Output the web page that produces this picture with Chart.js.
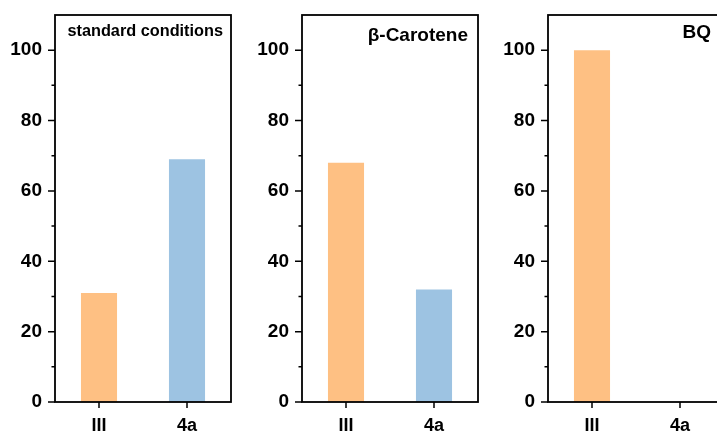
<!DOCTYPE html>
<html>
<head>
<meta charset="utf-8">
<script src="https://cdn.jsdelivr.net/npm/chart.js@4/dist/chart.umd.min.js"></script>
<style>
    html, body { margin: 0; padding: 0; background: #fff; overflow: hidden; }
    #wrap { position: relative; width: 717px; height: 433px; overflow: hidden; }
    .panel { position: absolute; top: 0; width: 240px; height: 433px; }
</style>
</head>
<body>
<div id="wrap">
    <div class="panel" style="left:0px"><canvas id="c1"></canvas></div>
    <div class="panel" style="left:247px"><canvas id="c2"></canvas></div>
    <div class="panel" style="left:493px"><canvas id="c3"></canvas></div>
</div>
<script>
// data
const categories = ["III", "4a"];
const standardValues = [31, 69];
const caroteneValues = [68, 32];
const bqValues = [100, 0];
const yTicks = [0, 20, 40, 60, 80, 100];
const yMinorTicks = [10, 30, 50, 70, 90];
const panelTitles = ["standard conditions", "β-Carotene", "BQ"];

const barColors = ["#FEC083", "#9DC3E2"];
const fontFamily = "'Liberation Sans', Arial, sans-serif";

// frame, tick marks and panel label
const framePlugin = {
    id: "frame",
    afterDraw(chart, args, opts) {
        const ctx = chart.ctx;
        const area = chart.chartArea;
        const yScale = chart.scales.y;
        const xScale = chart.scales.x;
        ctx.save();
        ctx.strokeStyle = "#000";
        ctx.lineWidth = 1.8;
        ctx.strokeRect(area.left, area.top, area.right - area.left, area.bottom - area.top);

        ctx.lineWidth = 1.5;
        ctx.beginPath();
        yTicks.forEach(v => {
            const py = yScale.getPixelForValue(v);
            ctx.moveTo(area.left - 7, py);
            ctx.lineTo(area.left, py);
        });
        yMinorTicks.forEach(v => {
            const py = yScale.getPixelForValue(v);
            ctx.moveTo(area.left - 3.5, py);
            ctx.lineTo(area.left, py);
        });
        categories.forEach((c, i) => {
            const px = xScale.getPixelForValue(i);
            ctx.moveTo(px, area.bottom);
            ctx.lineTo(px, area.bottom + 6);
        });
        ctx.stroke();

        ctx.fillStyle = "#000";
        ctx.font = "bold " + opts.size + "px " + fontFamily;
        ctx.textAlign = "right";
        ctx.textBaseline = "middle";
        ctx.fillText(opts.text, area.right - opts.pad, opts.y);
        ctx.restore();
    }
};

function makeChart(id, values, title) {
    const ctx = document.getElementById(id).getContext("2d");
    return new Chart(ctx, {
        type: "bar",
        data: {
            labels: categories,
            datasets: [{
                data: values,
                backgroundColor: barColors,
                borderWidth: 0,
                barPercentage: 0.41,
                categoryPercentage: 1
            }]
        },
        options: {
            responsive: true,
            maintainAspectRatio: false,
            animation: false,
            layout: { padding: { top: 15, right: 9, left: 0, bottom: 0 } },
            plugins: {
                legend: { display: false },
                tooltip: { enabled: false },
                frame: title
            },
            scales: {
                x: {
                    grid: { display: false, drawTicks: false },
                    border: { display: false },
                    ticks: {
                        color: "#000",
                        padding: 13,
                        font: { family: fontFamily, size: 18, weight: "bold" }
                    },
                    afterFit(s) {
                        s.height = 31;
                        s.paddingLeft = 0;
                        s.paddingRight = 0;
                    }
                },
                y: {
                    min: 0,
                    max: 110,
                    grid: { display: false, drawTicks: false },
                    border: { display: false },
                    ticks: {
                        stepSize: 20,
                        includeBounds: false,
                        color: "#000",
                        padding: 13,
                        font: { family: fontFamily, size: 19, weight: "bold" }
                    },
                    afterFit(s) {
                        s.width = 55;
                        s.paddingTop = 0;
                        s.paddingBottom = 0;
                    }
                }
            }
        },
        plugins: [framePlugin]
    });
}

makeChart("c1", standardValues, { text: panelTitles[0], size: 16.3, pad: 8, y: 32 });
makeChart("c2", caroteneValues, { text: panelTitles[1], size: 19, pad: 10, y: 36 });
makeChart("c3", bqValues, { text: panelTitles[2], size: 19, pad: 13, y: 33 });
</script>
</body>
</html>
